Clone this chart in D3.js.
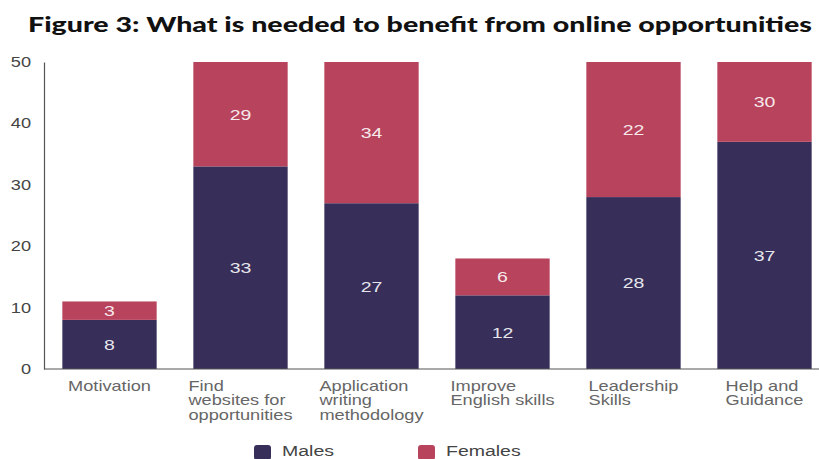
<!DOCTYPE html>
<html><head><meta charset="utf-8">
<script src="https://cdn.jsdelivr.net/npm/d3@7"></script>
<style>body{margin:0;background:#fff;} svg{display:block;}</style>
</head><body>
<svg id="chart" width="819" height="459"></svg>
<script>
const categories = [
  ["Motivation"],
  ["Find", "websites for", "opportunities"],
  ["Application", "writing", "methodology"],
  ["Improve", "English skills"],
  ["Leadership", "Skills"],
  ["Help and", "Guidance"]
];
const males = [8, 33, 27, 12, 28, 37];
const females = [3, 29, 34, 6, 22, 30];
const yTicks = [0, 10, 20, 30, 40, 50];
const seriesNames = ["Males", "Females"];
const colors = ["#372f5a", "#b8435d"];
const title = "Figure 3: What is needed to benefit from online opportunities";

const SX = 1.3; // horizontal stretch of text in the reference
const FONT = "'Liberation Sans', Arial, sans-serif";
const svg = d3.select("#chart");
const keys = categories.map(c => c.join(" "));
const x = d3.scaleBand().domain(keys).range([44, 830]).paddingInner(0.28).paddingOuter(0.14);
const y = d3.scaleLinear().domain([0, 50]).range([369, 62]);

function stretched(px, py, size, fill, anchor) {
  return svg.append("g").attr("transform", `translate(${px},${py}) scale(${SX},1)`)
    .append("text").attr("font-family", FONT).attr("font-size", size)
    .attr("fill", fill).attr("text-anchor", anchor || "start");
}

// title
svg.append("text").attr("x", 28).attr("y", 32)
  .attr("font-family", "Lato, 'Open Sans', sans-serif").attr("font-weight", 900)
  .attr("font-size", 21).attr("fill", "#111").text(title)
  .attr("textLength", 784).attr("lengthAdjust", "spacingAndGlyphs");

// bars
const data = keys.map((k, i) => ({k, m: males[i], f: females[i]}));
const clip = v => Math.min(v, 50);
data.forEach(d => {
  const segs = [
    {lo: 0, hi: clip(d.m), v: d.m, c: colors[0]},
    {lo: clip(d.m), hi: clip(d.m + d.f), v: d.f, c: colors[1]}
  ];
  segs.forEach(s => {
    svg.append("rect").attr("x", x(d.k)).attr("width", x.bandwidth())
      .attr("y", y(s.hi)).attr("height", y(s.lo) - y(s.hi)).attr("fill", s.c);
    stretched(x(d.k) + x.bandwidth() / 2, y((s.lo + s.hi) / 2), 15, "#fff", "middle")
      .attr("dy", "0.36em").attr("fill-opacity", 0.9).text(s.v);
  });
});

// y axis
const yAxis = d3.axisLeft(y).tickValues(yTicks).tickSize(0).tickPadding(13);
const ya = svg.append("g").attr("transform", "translate(44,0)").call(yAxis);
ya.select(".domain").attr("stroke", "#555").attr("stroke-width", 1.2);
ya.selectAll("text").attr("font-family", FONT).attr("font-size", 14).attr("fill", "#444")
  .attr("x", -13 / SX).attr("transform", `scale(${SX},1)`);

// baseline
svg.append("line").attr("x1", 44).attr("x2", 819).attr("y1", y(0)).attr("y2", y(0))
  .attr("stroke", "#555").attr("stroke-width", 1.2);

// x labels: block centred under bar, lines left aligned
categories.forEach((lines, i) => {
  const cx = x(keys[i]) + x.bandwidth() / 2;
  const tx = stretched(0, 0, 14, "#666", "start");
  lines.forEach((ln, j) => tx.append("tspan").attr("x", 0).attr("y", 391 + j * 14.5).text(ln));
  let maxW = 0;
  tx.selectAll("tspan").each(function () { maxW = Math.max(maxW, this.getComputedTextLength()); });
  d3.select(tx.node().parentNode).attr("transform", `translate(${cx - maxW * SX / 2},0) scale(${SX},1)`);
});

// legend
const legendX = [254, 418];
seriesNames.forEach((n, i) => {
  svg.append("rect").attr("x", legendX[i]).attr("y", 445).attr("width", 17).attr("height", 15)
    .attr("rx", 3).attr("fill", colors[i]);
  stretched(legendX[i] + 28, 456, 15, "#444", "start").text(n);
});
</script>
</body></html>
